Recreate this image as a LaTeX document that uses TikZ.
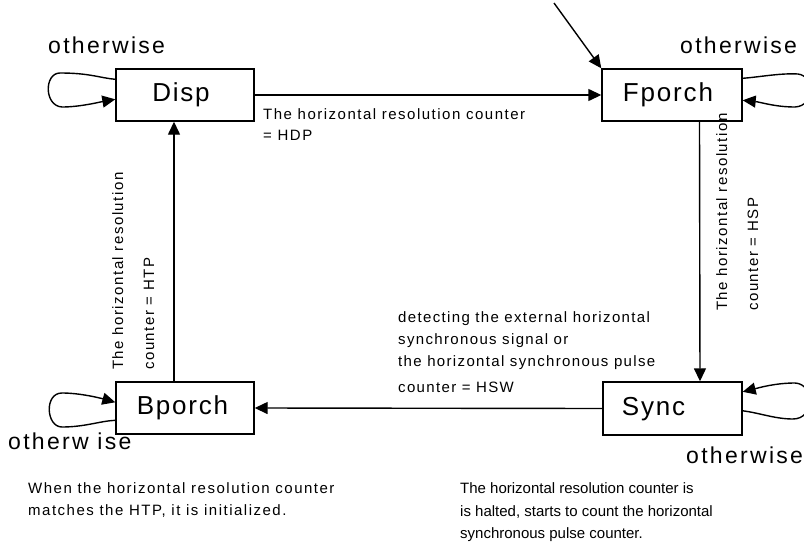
\documentclass[tikz,border=0pt]{standalone}
\usepackage{fontspec}
\setmainfont{Liberation Sans}
\newfontfamily\spfont[LetterSpace=10]{Liberation Sans}
\newfontfamily\spfontb[LetterSpace=9]{Liberation Sans}
\newfontfamily\boxfont[LetterSpace=7]{Liberation Sans}
\usetikzlibrary{arrows.meta}
\begin{document}
\begin{tikzpicture}[x=1pt,y=-1pt,
  statebox/.style={draw, line width=1.4pt, minimum width=138pt, minimum height=52pt, inner sep=0pt,
    font=\boxfont\fontsize{26}{30}\selectfont, text height=18.6pt, text depth=5.5pt},
  arr/.style={line width=1.4pt, -{Triangle[length=13pt,width=12pt]}},
  other/.style={anchor=base west, inner sep=0pt, font=\spfont\fontsize{23}{27}\selectfont},
  lab/.style={anchor=base west, inner sep=0pt, font=\spfont\fontsize{15}{18}\selectfont},
  labm/.style={anchor=base west, inner sep=0pt, font=\spfontb\fontsize{15}{18}\selectfont},
  labr/.style={anchor=base west, inner sep=0pt, font=\fontsize{15}{18}\selectfont},
]
\useasboundingbox (0,0) rectangle (804,546);
\fill[white] (0,0) rectangle (804,546);

% states
\node[statebox] (disp) at (185,95) {Disp\hspace*{8pt}};
\node[statebox, minimum width=140pt] (fporch) at (672,95) {Fporch\hspace*{8pt}};
\node[statebox, minimum width=139pt, minimum height=53pt] (sync) at (672.5,408.5) {Sync\hspace*{38pt}};
\node[statebox] (bporch) at (185,408) {Bporch\hspace*{5pt}};

% initial arrow
\coordinate (init) at (554,3);
\draw[arr] (init) -- (fporch.north west);

% transitions
\draw[arr] (disp.east) -- (fporch.west);
\draw[arr] ([xshift=27.5pt]fporch.south) -- ([xshift=27.5pt]sync.north);
\draw[arr] (sync.west) -- (bporch.east);
\draw[arr] ([xshift=-11pt]bporch.north) -- ([xshift=-11pt]disp.south);

% self loops
\draw[arr] ([yshift=-11pt]disp.north west) .. controls (100,78) and (90,73) .. (60,73)
  .. controls (44,73) and (44,106) .. (62,107)
  .. controls (80,107) and (100,102) .. ([yshift=-31pt]disp.north west);
\draw[arr] ([yshift=-39pt]bporch.north west) .. controls (100,421) and (85,427) .. (62,427)
  .. controls (46,427) and (44,393) .. (62,393)
  .. controls (80,393) and (100,398) .. ([yshift=-21pt]bporch.north west);
\draw[arr] ([yshift=-10pt]fporch.north east) .. controls (760,77) and (780,73) .. (798,74)
  .. controls (815,76) and (815,106) .. (795,107)
  .. controls (775,107) and (760,102) .. ([yshift=-32pt]fporch.north east);
\draw[arr] ([yshift=-29.5pt]sync.north east) .. controls (760,413) and (775,419) .. (793,419)
  .. controls (815,419) and (815,384) .. (795,383)
  .. controls (775,383) and (758,388) .. ([yshift=-10.5pt]sync.north east);

% otherwise labels
\node[other] (ow1) at (48,53) {otherwise};
\node[other] (ow2) at (680,53) {otherwise};
\node[other] (ow3) at (8,449) {otherw ise};
\node[other] (ow4) at (686,463) {otherwise};

% transition labels
\node[lab] (hdpa) at (263,119) {The horizontal resolution counter};
\node[lab] (hdpb) at (263,140) {= HDP};

\node[labm] (hswa) at (398,322) {detecting the external horizontal};
\node[labm] (hswb) at (398,344) {synchronous signal or};
\node[labm] (hswc) at (398,366) {the horizontal synchronous pulse};
\node[labm] (hswd) at (398,392) {counter = HSW};

\node[lab, rotate=90] (htpa) at (123,370) {The horizontal resolution};
\node[lab, rotate=90] (htpb) at (154,370) {counter = HTP};
\node[lab, rotate=90] (hspa) at (727,311) {The horizontal resolution};
\node[lab, rotate=90] (hspb) at (758,311) {counter = HSP};

% notes
\node[lab] (nla) at (28,493) {When the horizontal resolution counter};
\node[lab] (nlb) at (28,515) {matches the HTP, it is initialized.};
\node[labr] (nra) at (460,493) {The horizontal resolution counter is};
\node[labr] (nrb) at (460,516) {is halted, starts to count the horizontal};
\node[labr] (nrc) at (460,538) {synchronous pulse counter.};
\end{tikzpicture}
\end{document}
